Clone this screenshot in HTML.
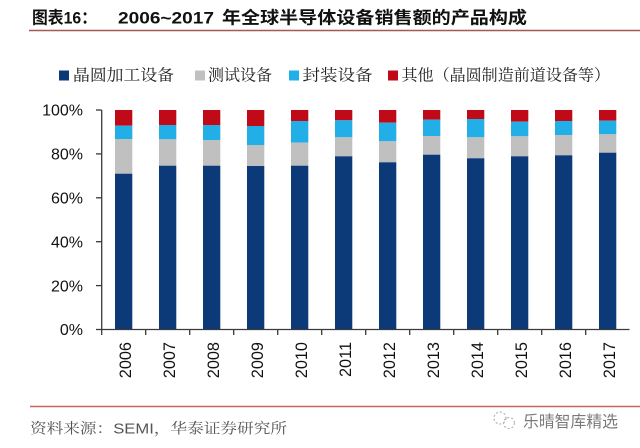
<!DOCTYPE html>
<html>
<head>
<meta charset="utf-8">
<style>
  html,body{margin:0;padding:0;background:#fff;}
  svg{display:block;}
</style>
</head>
<body>
<svg width="640" height="448" viewBox="0 0 640 448" xmlns="http://www.w3.org/2000/svg">
  <rect x="0" y="0" width="640" height="448" fill="#ffffff"/>

  <!-- Title -->
  <g font-family="'Liberation Sans','Noto Sans CJK SC',sans-serif" font-weight="bold" fill="#111" font-size="17">
    <text x="32" y="23.5" textLength="65" lengthAdjust="spacingAndGlyphs">图表16：</text>
    <text x="118" y="23.5" textLength="96" lengthAdjust="spacingAndGlyphs">2006~2017</text>
    <text x="222" y="23.5" textLength="305" lengthAdjust="spacingAndGlyphs">年全球半导体设备销售额的产品构成</text>
  </g>
  <line x1="29" y1="30.5" x2="640" y2="30.5" stroke="#a85656" stroke-width="1.5"/>

  <!-- Legend -->
  <g font-family="'Liberation Serif','Noto Serif CJK SC',serif" font-size="16" fill="#222">
    <rect x="59" y="70.5" width="10" height="10" fill="#0c3a78"/>
    <text x="73" y="80.5" textLength="101" lengthAdjust="spacingAndGlyphs">晶圆加工设备</text>
    <rect x="195" y="70.5" width="10" height="10" fill="#c0c0c0"/>
    <text x="208" y="80.5" textLength="64" lengthAdjust="spacingAndGlyphs">测试设备</text>
    <rect x="289" y="70.5" width="10" height="10" fill="#22aee6"/>
    <text x="302.5" y="80.5" textLength="70" lengthAdjust="spacingAndGlyphs">封装设备</text>
    <rect x="388" y="70.5" width="10" height="10" fill="#c00a17"/>
    <text x="401.5" y="80.5" textLength="208.5" lengthAdjust="spacingAndGlyphs">其他（晶圆制造前道设备等）</text>
  </g>

  <!-- Y axis labels -->
  <g font-family="'Liberation Sans',sans-serif" font-size="16" fill="#111" text-anchor="end">
    <text x="83" y="115.7">100%</text>
    <text x="83" y="159.6">80%</text>
    <text x="83" y="203.5">60%</text>
    <text x="83" y="247.4">40%</text>
    <text x="83" y="291.3">20%</text>
    <text x="83" y="335.2">0%</text>
  </g>

  <!-- Bars -->
  <g id="bars">
    <!-- 2006 -->
    <rect x="115" y="110" width="17.3" height="15.7" fill="#c00a17"/>
    <rect x="115" y="125.7" width="17.3" height="13.3" fill="#22aee6"/>
    <rect x="115" y="139" width="17.3" height="34.7" fill="#c0c0c0"/>
    <rect x="115" y="173.7" width="17.3" height="155.8" fill="#0c3a78"/>
    <!-- 2007 -->
    <rect x="159" y="110" width="17.3" height="15" fill="#c00a17"/>
    <rect x="159" y="125" width="17.3" height="14.3" fill="#22aee6"/>
    <rect x="159" y="139.3" width="17.3" height="26.4" fill="#c0c0c0"/>
    <rect x="159" y="165.7" width="17.3" height="163.8" fill="#0c3a78"/>
    <!-- 2008 -->
    <rect x="203" y="110" width="17.3" height="15" fill="#c00a17"/>
    <rect x="203" y="125" width="17.3" height="15" fill="#22aee6"/>
    <rect x="203" y="140" width="17.3" height="25.7" fill="#c0c0c0"/>
    <rect x="203" y="165.7" width="17.3" height="163.8" fill="#0c3a78"/>
    <!-- 2009 -->
    <rect x="247" y="110" width="17.3" height="16" fill="#c00a17"/>
    <rect x="247" y="126" width="17.3" height="19" fill="#22aee6"/>
    <rect x="247" y="145" width="17.3" height="21" fill="#c0c0c0"/>
    <rect x="247" y="166" width="17.3" height="163.5" fill="#0c3a78"/>
    <!-- 2010 -->
    <rect x="291" y="110" width="17.3" height="11" fill="#c00a17"/>
    <rect x="291" y="121" width="17.3" height="21.7" fill="#22aee6"/>
    <rect x="291" y="142.7" width="17.3" height="23" fill="#c0c0c0"/>
    <rect x="291" y="165.7" width="17.3" height="163.8" fill="#0c3a78"/>
    <!-- 2011 -->
    <rect x="335" y="110" width="17.3" height="10.3" fill="#c00a17"/>
    <rect x="335" y="120.3" width="17.3" height="17" fill="#22aee6"/>
    <rect x="335" y="137.3" width="17.3" height="19" fill="#c0c0c0"/>
    <rect x="335" y="156.3" width="17.3" height="173.2" fill="#0c3a78"/>
    <!-- 2012 -->
    <rect x="379" y="110" width="17.3" height="12.7" fill="#c00a17"/>
    <rect x="379" y="122.7" width="17.3" height="18.6" fill="#22aee6"/>
    <rect x="379" y="141.3" width="17.3" height="21" fill="#c0c0c0"/>
    <rect x="379" y="162.3" width="17.3" height="167.2" fill="#0c3a78"/>
    <!-- 2013 -->
    <rect x="423" y="110" width="17.3" height="9.7" fill="#c00a17"/>
    <rect x="423" y="119.7" width="17.3" height="16.3" fill="#22aee6"/>
    <rect x="423" y="136" width="17.3" height="18.7" fill="#c0c0c0"/>
    <rect x="423" y="154.7" width="17.3" height="174.8" fill="#0c3a78"/>
    <!-- 2014 -->
    <rect x="467" y="110" width="17.3" height="9" fill="#c00a17"/>
    <rect x="467" y="119" width="17.3" height="18.3" fill="#22aee6"/>
    <rect x="467" y="137.3" width="17.3" height="21" fill="#c0c0c0"/>
    <rect x="467" y="158.3" width="17.3" height="171.2" fill="#0c3a78"/>
    <!-- 2015 -->
    <rect x="511" y="110" width="17.3" height="11.7" fill="#c00a17"/>
    <rect x="511" y="121.7" width="17.3" height="14.6" fill="#22aee6"/>
    <rect x="511" y="136.3" width="17.3" height="20" fill="#c0c0c0"/>
    <rect x="511" y="156.3" width="17.3" height="173.2" fill="#0c3a78"/>
    <!-- 2016 -->
    <rect x="555" y="110" width="17.3" height="11" fill="#c00a17"/>
    <rect x="555" y="121" width="17.3" height="14" fill="#22aee6"/>
    <rect x="555" y="135" width="17.3" height="20.3" fill="#c0c0c0"/>
    <rect x="555" y="155.3" width="17.3" height="174.2" fill="#0c3a78"/>
    <!-- 2017 -->
    <rect x="599" y="110" width="17.3" height="10.7" fill="#c00a17"/>
    <rect x="599" y="120.7" width="17.3" height="13.6" fill="#22aee6"/>
    <rect x="599" y="134.3" width="17.3" height="18.4" fill="#c0c0c0"/>
    <rect x="599" y="152.7" width="17.3" height="176.8" fill="#0c3a78"/>
  </g>

  <!-- Axes -->
  <g stroke="#3a3a3a" stroke-width="1.3" fill="none">
    <line x1="101.7" y1="110" x2="101.7" y2="329.5"/>
    <line x1="96" y1="110" x2="101.7" y2="110"/>
    <line x1="96" y1="153.9" x2="101.7" y2="153.9"/>
    <line x1="96" y1="197.8" x2="101.7" y2="197.8"/>
    <line x1="96" y1="241.7" x2="101.7" y2="241.7"/>
    <line x1="96" y1="285.6" x2="101.7" y2="285.6"/>
    <line x1="96" y1="329.5" x2="101.7" y2="329.5"/>
    <line x1="101.7" y1="329.5" x2="629.5" y2="329.5"/>
    <line x1="101.7" y1="329.5" x2="101.7" y2="335"/>
    <line x1="145.7" y1="329.5" x2="145.7" y2="335"/>
    <line x1="189.7" y1="329.5" x2="189.7" y2="335"/>
    <line x1="233.7" y1="329.5" x2="233.7" y2="335"/>
    <line x1="277.7" y1="329.5" x2="277.7" y2="335"/>
    <line x1="321.7" y1="329.5" x2="321.7" y2="335"/>
    <line x1="365.7" y1="329.5" x2="365.7" y2="335"/>
    <line x1="409.7" y1="329.5" x2="409.7" y2="335"/>
    <line x1="453.7" y1="329.5" x2="453.7" y2="335"/>
    <line x1="497.7" y1="329.5" x2="497.7" y2="335"/>
    <line x1="541.7" y1="329.5" x2="541.7" y2="335"/>
    <line x1="585.7" y1="329.5" x2="585.7" y2="335"/>
  </g>

  <!-- X labels (rotated) -->
  <g font-family="'Liberation Sans',sans-serif" font-size="16.3" fill="#111" text-anchor="end">
    <text transform="translate(123.7,342) rotate(-90)" x="0" y="7.5">2006</text>
    <text transform="translate(167.7,342) rotate(-90)" x="0" y="7.5">2007</text>
    <text transform="translate(211.7,342) rotate(-90)" x="0" y="7.5">2008</text>
    <text transform="translate(255.7,342) rotate(-90)" x="0" y="7.5">2009</text>
    <text transform="translate(299.7,342) rotate(-90)" x="0" y="7.5">2010</text>
    <text transform="translate(343.7,342) rotate(-90)" x="0" y="7.5">2011</text>
    <text transform="translate(387.7,342) rotate(-90)" x="0" y="7.5">2012</text>
    <text transform="translate(431.7,342) rotate(-90)" x="0" y="7.5">2013</text>
    <text transform="translate(475.7,342) rotate(-90)" x="0" y="7.5">2014</text>
    <text transform="translate(519.7,342) rotate(-90)" x="0" y="7.5">2015</text>
    <text transform="translate(563.7,342) rotate(-90)" x="0" y="7.5">2016</text>
    <text transform="translate(607.7,342) rotate(-90)" x="0" y="7.5">2017</text>
  </g>

  <!-- Bottom rule -->
  <line x1="30" y1="406.5" x2="640" y2="406.5" stroke="#c4675c" stroke-width="1.5"/>

  <!-- Source -->
  <text x="30" y="433.5" font-family="'Liberation Sans','Noto Serif CJK SC',serif" font-size="14.5" fill="#555" textLength="257" lengthAdjust="spacingAndGlyphs">资料来源：SEMI，华泰证券研究所</text>

  <!-- Watermark -->
  <g stroke="#b5b5b5" stroke-width="1.2" fill="none" stroke-dasharray="2 2">
    <circle cx="500" cy="418" r="6"/>
    <circle cx="509" cy="423" r="5.5"/>
  </g>
  <text x="523" y="427" font-family="'Liberation Sans','Noto Sans CJK SC',sans-serif" font-size="16" fill="#7a7a7a" textLength="95" lengthAdjust="spacingAndGlyphs">乐晴智库精选</text>
</svg>
</body>
</html>
